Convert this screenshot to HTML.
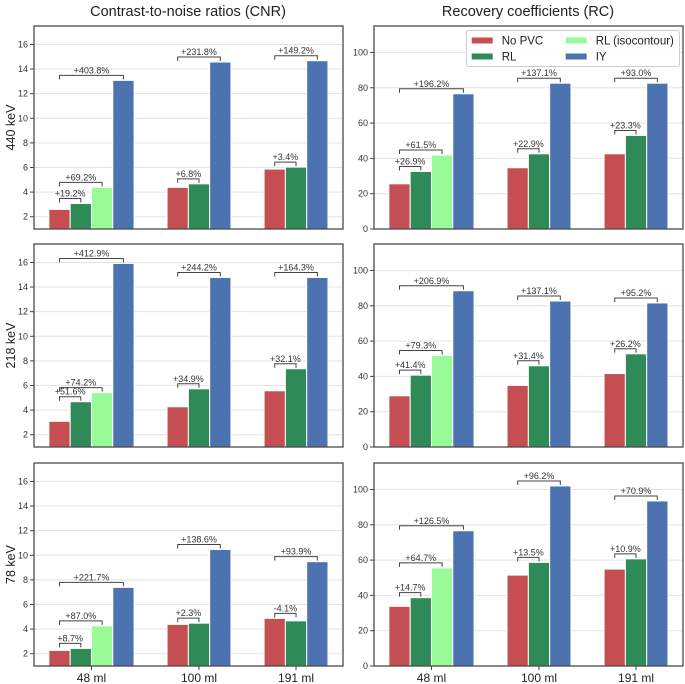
<!DOCTYPE html>
<html><head><meta charset="utf-8"><style>
body{margin:0;background:#fff}
svg{display:block;font-family:"Liberation Sans",sans-serif}
</style></head><body>
<svg id="c" width="685" height="684" xmlns="http://www.w3.org/2000/svg"></svg>
<script>
const categories=['48 ml','100 ml','191 ml'];
const rowLabels=['440 keV','218 keV','78 keV'];
const seriesNames=['No PVC','RL','RL (isocontour)','IY'];
const seriesColors=['#c44e52','#2e8b57','#98fb98','#4c72b0'];
// CNR values [group][series] null = missing
const cnr440NoPVC=[2.59,4.38,5.87];
const cnr440RL=[3.07,4.67,6.03];
const cnr440Iso=[4.38,null,null];
const cnr440IY=[13.08,14.57,14.68];
const cnr218NoPVC=[3.09,4.27,5.57];
const cnr218RL=[4.68,5.73,7.36];
const cnr218Iso=[5.42,null,null];
const cnr218IY=[15.92,14.78,14.78];
const cnr78NoPVC=[2.27,4.38,4.87];
const cnr78RL=[2.43,4.48,4.67];
const cnr78Iso=[4.26,null,null];
const cnr78IY=[7.39,10.47,9.48];
const rc440NoPVC=[25.6,34.7,42.6];
const rc440RL=[32.6,42.6,53.0];
const rc440Iso=[41.9,null,null];
const rc440IY=[76.6,82.6,82.6];
const rc218NoPVC=[29.0,34.9,41.6];
const rc218RL=[40.7,46.0,52.8];
const rc218Iso=[51.8,null,null];
const rc218IY=[88.5,82.7,81.6];
const rc78NoPVC=[33.8,51.5,54.9];
const rc78RL=[38.7,58.7,60.7];
const rc78Iso=[55.6,null,null];
const rc78IY=[76.6,102.0,93.5];
// percent labels [group][RL, iso, IY]
const cnr440Pct=[['+19.2%','+69.2%','+403.8%'],['+6.8%',null,'+231.8%'],['+3.4%',null,'+149.2%']];
const cnr218Pct=[['+51.6%','+74.2%','+412.9%'],['+34.9%',null,'+244.2%'],['+32.1%',null,'+164.3%']];
const cnr78Pct=[['+8.7%','+87.0%','+221.7%'],['+2.3%',null,'+138.6%'],['-4.1%',null,'+93.9%']];
const rc440Pct=[['+26.9%','+61.5%','+196.2%'],['+22.9%',null,'+137.1%'],['+23.3%',null,'+93.0%']];
const rc218Pct=[['+41.4%','+79.3%','+206.9%'],['+31.4%',null,'+137.1%'],['+26.2%',null,'+95.2%']];
const rc78Pct=[['+14.7%','+64.7%','+126.5%'],['+13.5%',null,'+96.2%'],['+10.9%',null,'+70.9%']];
const cnrTicks=[2,4,6,8,10,12,14,16];
const rcTicks=[0,20,40,60,80,100];

const svg=document.getElementById('c');
const NS='http://www.w3.org/2000/svg';
function mk(tag,attrs,parent,text){const e=document.createElementNS(NS,tag);for(const k in attrs)e.setAttribute(k,attrs[k]);if(text!=null)e.textContent=text;(parent||svg).appendChild(e);return e;}

const rowTops=[26,244,463], panelH=203, panelW=309;
const colLefts=[34,374];
const groupFrac=[0.186,0.534,0.848];
const barW=21.3;

const panels=[
 {col:0,row:0,ser:[cnr440NoPVC,cnr440RL,cnr440Iso,cnr440IY],pct:cnr440Pct,lim:[1,17.5],ticks:cnrTicks,name:'cnr-440'},
 {col:0,row:1,ser:[cnr218NoPVC,cnr218RL,cnr218Iso,cnr218IY],pct:cnr218Pct,lim:[1,17.5],ticks:cnrTicks,name:'cnr-218'},
 {col:0,row:2,ser:[cnr78NoPVC,cnr78RL,cnr78Iso,cnr78IY],pct:cnr78Pct,lim:[1,17.5],ticks:cnrTicks,name:'cnr-78'},
 {col:1,row:0,ser:[rc440NoPVC,rc440RL,rc440Iso,rc440IY],pct:rc440Pct,lim:[0,115],ticks:rcTicks,name:'rc-440'},
 {col:1,row:1,ser:[rc218NoPVC,rc218RL,rc218Iso,rc218IY],pct:rc218Pct,lim:[0,115],ticks:rcTicks,name:'rc-218'},
 {col:1,row:2,ser:[rc78NoPVC,rc78RL,rc78Iso,rc78IY],pct:rc78Pct,lim:[0,115],ticks:rcTicks,name:'rc-78'}
];

panels.forEach(p=>{
 const L=colLefts[p.col], T=rowTops[p.row], B=T+panelH;
 const g=mk('g',{});
 
 
 const y=v=>B-(v-p.lim[0])/(p.lim[1]-p.lim[0])*panelH;
 p.ticks.forEach(t=>{
  const gl=mk('line',{x1:L,x2:L+panelW,y1:y(t),y2:y(t),stroke:'#e3e3e3','stroke-width':1},g);
  
  
  mk('line',{x1:L-4,x2:L,y1:y(t),y2:y(t),stroke:'#444','stroke-width':1},g);
  const tl=mk('text',{x:L-6,y:y(t)+3,'font-size':9,fill:'#333','text-anchor':'end'},g,String(t));
  
  
 });
 categories.forEach((c,gi)=>{
  const cx=L+groupFrac[gi]*panelW;
  const present=[];
  p.ser.forEach((s,si)=>{if(s[gi]!=null)present.push(si);});
  const n=present.length;
  const xc={}, tops={};
  present.forEach((si,k)=>{
   const x0=cx-n*barW/2+k*barW;
   xc[si]=x0+barW/2;
   const v=p.ser[si][gi];
   tops[si]=y(v);
   const r=mk('rect',{x:x0,y:y(v),width:barW,height:B-y(v),fill:seriesColors[si],stroke:'#fff','stroke-width':1},g);
   
   
  });
  // brackets
  [1,2,3].forEach(si=>{
   const lab=p.pct[gi][si-1];
   if(lab==null||xc[si]==null)return;
   let top=Math.min(tops[0],tops[si]);
   present.forEach(k=>{if(xc[k]<=xc[si])top=Math.min(top,tops[k]);});
   const by=top-5, x1=xc[0], x2=xc[si];
   const br=mk('path',{d:`M${x1},${by+4}V${by}H${x2}V${by+4}`,fill:'none',stroke:'#444','stroke-width':1},g);
   
   
   const t=mk('text',{x:(x1+x2)/2,y:by-2,'font-size':9,fill:'#333','text-anchor':'middle'},g,lab);
   
   
  });
  if(p.row===2){
   mk('line',{x1:cx,x2:cx,y1:B,y2:B+4,stroke:'#444','stroke-width':1},g);
   const xl=mk('text',{x:cx,y:B+16,'font-size':12,fill:'#222','text-anchor':'middle'},g,c);
   
   
  }
 });
 const fr=mk('rect',{x:L,y:T,width:panelW,height:panelH,fill:'none',stroke:'#4a4a4a','stroke-width':1.3},g);
 
 
 if(p.col===0){
  const yl=mk('text',{x:0,y:0,'font-size':12.5,fill:'#222','text-anchor':'middle',transform:`translate(15,${T+panelH/2}) rotate(-90)`},g,rowLabels[p.row]);
  
  
 }
});

const t1=mk('text',{x:188,y:16,'font-size':14.5,fill:'#222','text-anchor':'middle'},svg,'Contrast-to-noise ratios (CNR)');


const t2=mk('text',{x:528,y:16,'font-size':14.5,fill:'#222','text-anchor':'middle'},svg,'Recovery coefficients (RC)');



// legend
const lg=mk('g',{});


mk('rect',{x:466.5,y:30.5,width:213,height:36,fill:'#fff','fill-opacity':0.85,stroke:'#ccc','stroke-width':1,rx:2},lg);
const legPos=[[471.7,37.5],[471.7,53.5],[565.7,37.5],[565.7,53.5]];
seriesNames.forEach((nm,i)=>{
 const e=mk('g',{},lg);
 
 
 mk('rect',{x:legPos[i][0],y:legPos[i][1],width:21,height:6,fill:seriesColors[i]},e);
 mk('text',{x:legPos[i][0]+30,y:legPos[i][1]+7,'font-size':11.5,fill:'#222'},e,nm);
});
</script>
</body></html>
